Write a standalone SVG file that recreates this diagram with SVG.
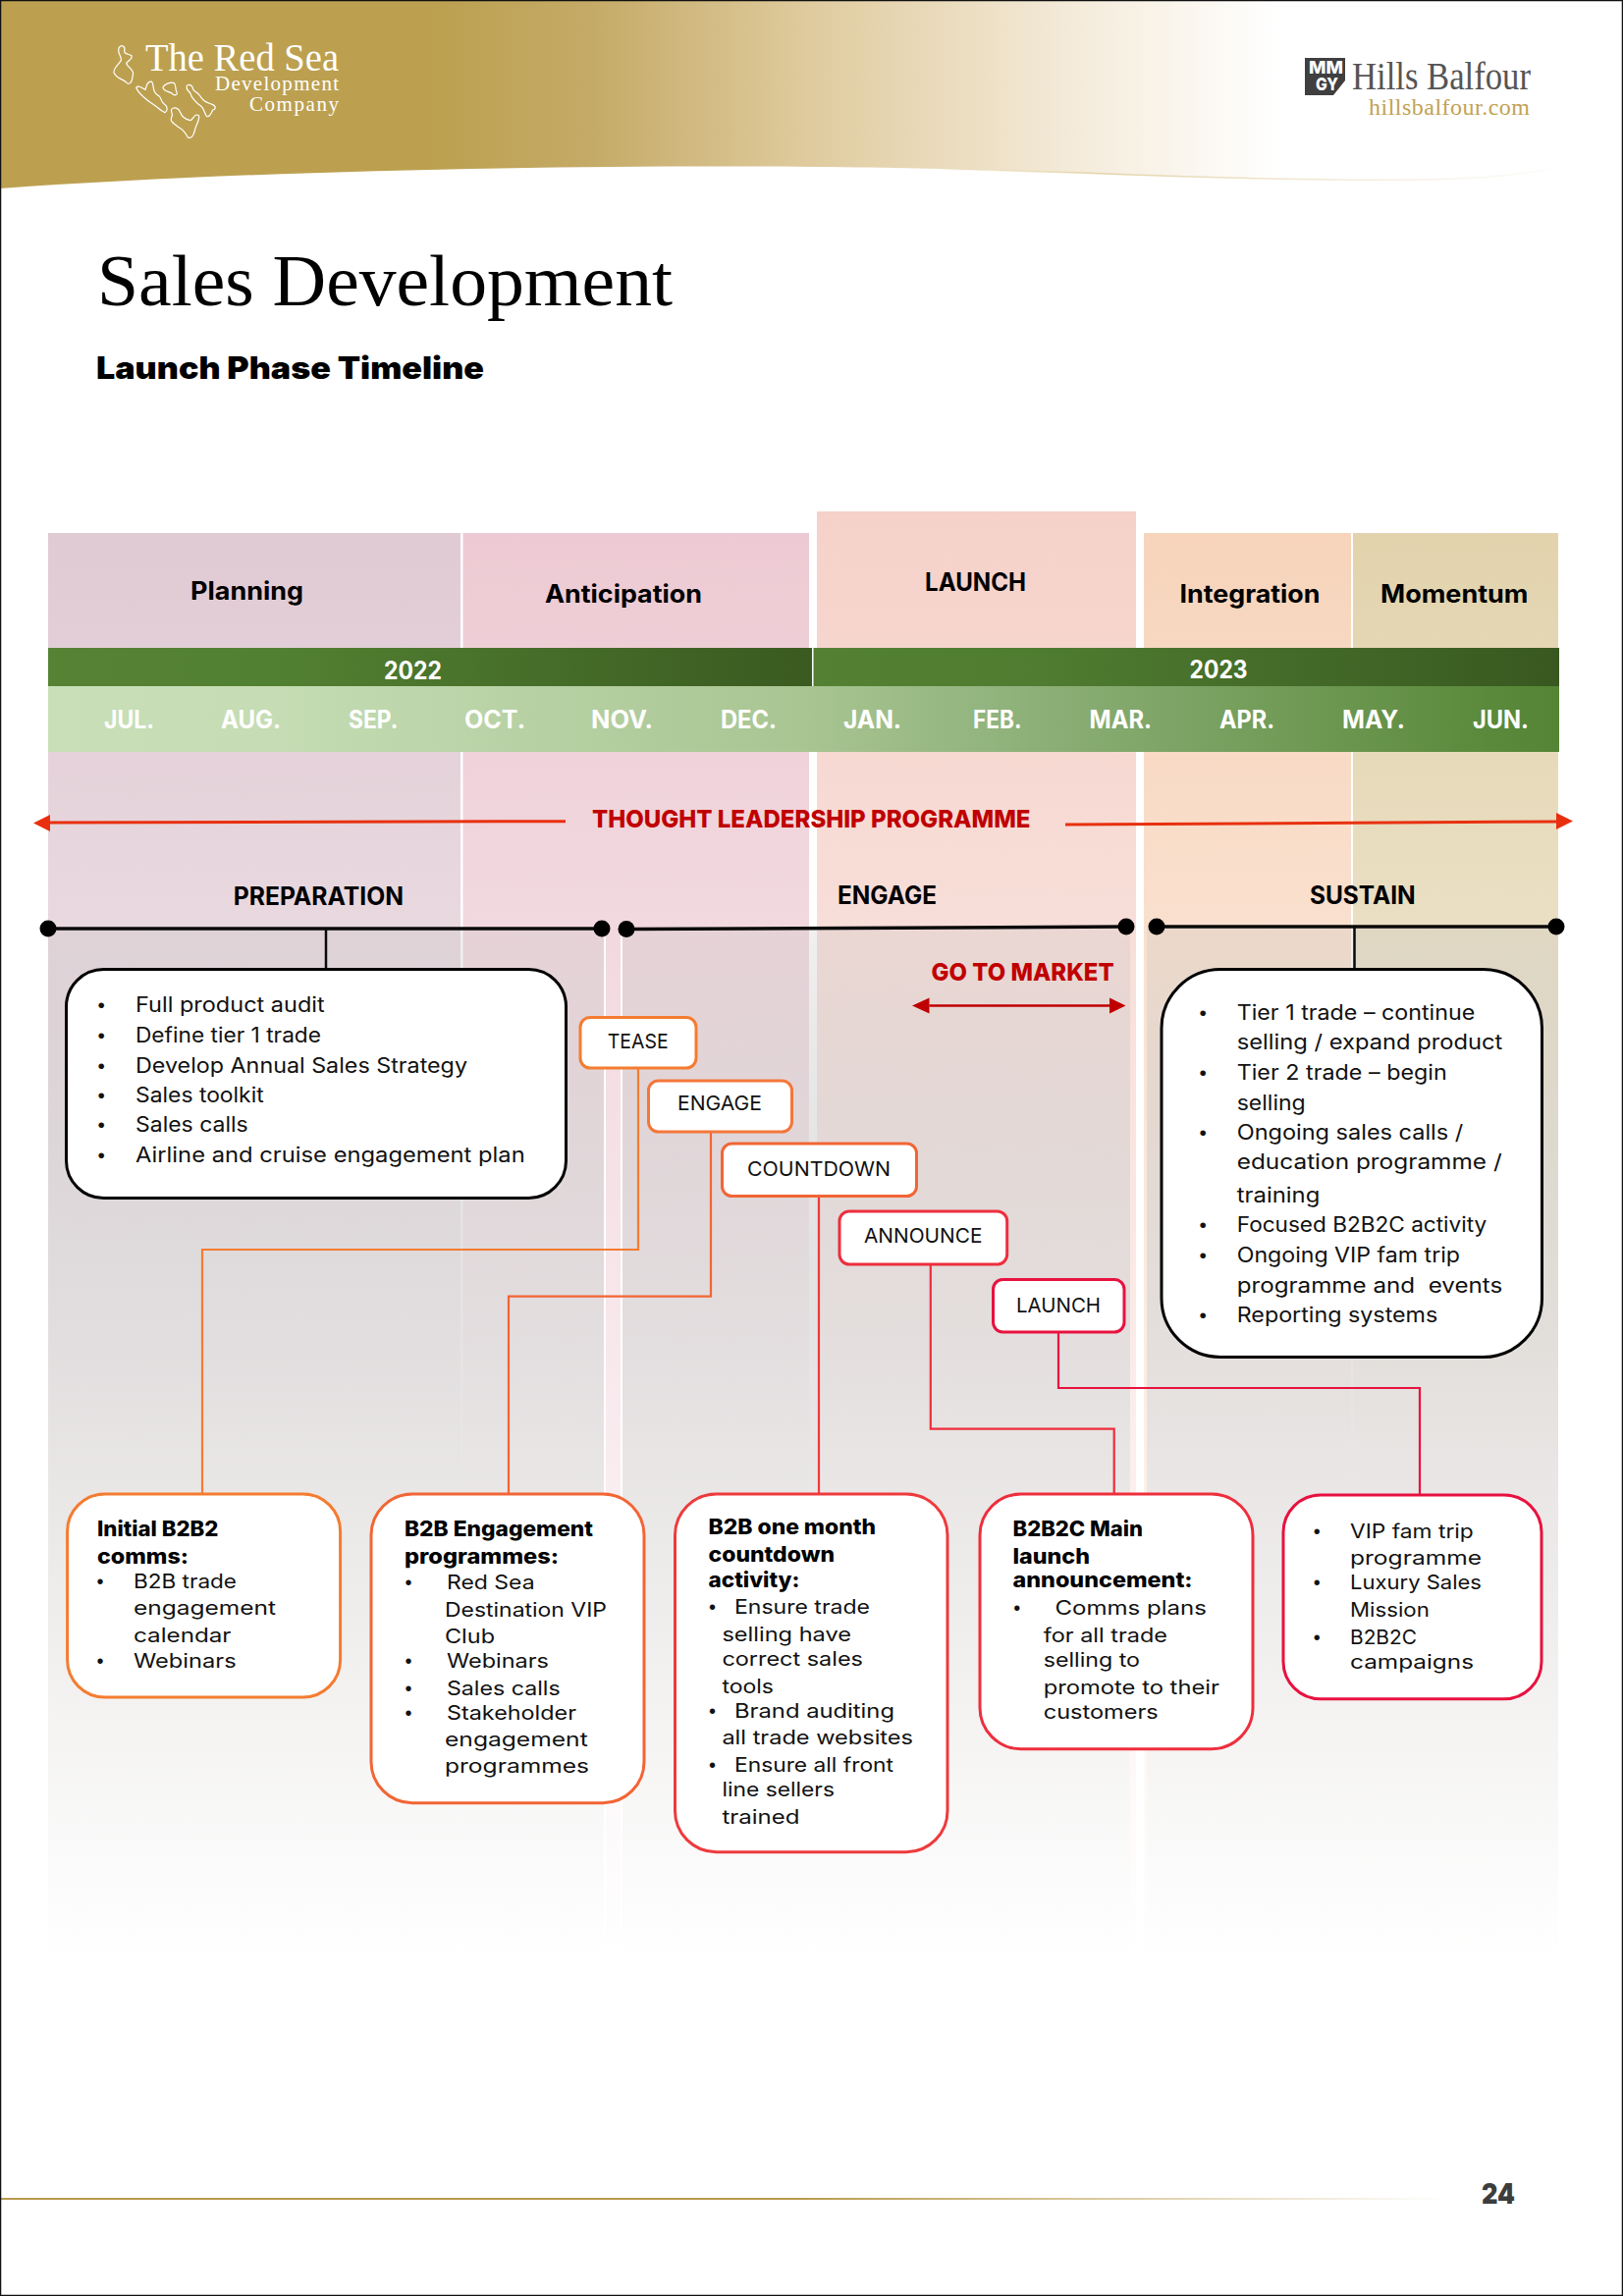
<svg xmlns="http://www.w3.org/2000/svg" width="1653" height="2339" viewBox="0 0 1653 2339">
<style>
text{font-family:"Inter","Liberation Sans",sans-serif;fill:#000}
.serif{font-family:"Liberation Serif",serif}
.hd{font-size:25px;font-weight:700}
.yr{font-size:25px;font-weight:700;fill:#fff}
.mo{font-size:25px;font-weight:700;fill:#fff}
.rd{font-size:25px;font-weight:800;fill:#c00000}
.tag{font-size:20px;font-weight:400;fill:#111}
.b{font-size:20px;font-weight:400;fill:#111}
.bb{font-size:21px;font-weight:400;fill:#111}
.bu{font-family:"Liberation Sans",sans-serif}
.h{font-size:21px;font-weight:800}
.w{fill:#fff}
.box{fill:#fff;stroke-width:3}
.o1{stroke:#f47c30}.o2{stroke:#f26535}.r1{stroke:#ee3a3c}.r2{stroke:#ee2e3d}.r3{stroke:#e8123f}.k{stroke:#000}
.cn{fill:none;stroke-width:2.2}
.tl{fill:none;stroke:#0a0a0a;stroke-width:3.5}
.st{fill:none;stroke:#0a0a0a;stroke-width:2.5}
.coral{fill:none;stroke:#fff;stroke-width:3.6;stroke-linejoin:round}
</style>
<defs>
<linearGradient id="gH" gradientUnits="userSpaceOnUse" x1="0" y1="0" x2="1300" y2="0"><stop offset="0" stop-color="#bca050"/><stop offset=".34" stop-color="#bca050"/><stop offset=".46" stop-color="#c4aa66"/><stop offset=".64" stop-color="#e0cca0"/><stop offset=".85" stop-color="#f5ecdc"/><stop offset="1" stop-color="#fff"/></linearGradient>
<linearGradient id="gE" gradientUnits="userSpaceOnUse" x1="950" y1="0" x2="1610" y2="0"><stop offset="0" stop-color="#e4d3a8" stop-opacity="0"/><stop offset=".25" stop-color="#e4d3a8"/><stop offset=".65" stop-color="#f3ecdc"/><stop offset="1" stop-color="#fff"/></linearGradient>
<linearGradient id="gP" gradientUnits="userSpaceOnUse" x1="0" y1="543" x2="0" y2="2000"><stop offset="0" stop-color="#e0cad3"/><stop offset="1" stop-color="#fff"/></linearGradient>
<linearGradient id="gA" gradientUnits="userSpaceOnUse" x1="0" y1="543" x2="0" y2="2000"><stop offset="0" stop-color="#edcad3"/><stop offset="1" stop-color="#fff"/></linearGradient>
<linearGradient id="gL" gradientUnits="userSpaceOnUse" x1="0" y1="521" x2="0" y2="2000"><stop offset="0" stop-color="#f5d1c9"/><stop offset="1" stop-color="#fff"/></linearGradient>
<linearGradient id="gI" gradientUnits="userSpaceOnUse" x1="0" y1="543" x2="0" y2="2000"><stop offset="0" stop-color="#f7d4bb"/><stop offset="1" stop-color="#fff"/></linearGradient>
<linearGradient id="gM" gradientUnits="userSpaceOnUse" x1="0" y1="543" x2="0" y2="2000"><stop offset="0" stop-color="#e2d3ad"/><stop offset="1" stop-color="#fff"/></linearGradient>
<linearGradient id="gO" gradientUnits="userSpaceOnUse" x1="0" y1="946" x2="0" y2="2030"><stop offset="0" stop-color="#bcbcbc" stop-opacity=".22"/><stop offset=".511" stop-color="#e8e5e5" stop-opacity=".95"/><stop offset=".742" stop-color="#f4f3f2" stop-opacity=".98"/><stop offset=".926" stop-color="#fdfdfd" stop-opacity=".95"/><stop offset="1" stop-color="#fff" stop-opacity="0"/></linearGradient>
<linearGradient id="gY1" gradientUnits="userSpaceOnUse" x1="49" y1="0" x2="827" y2="0"><stop offset="0" stop-color="#568234"/><stop offset=".3" stop-color="#528032"/><stop offset="1" stop-color="#3a5a20"/></linearGradient>
<linearGradient id="gY2" gradientUnits="userSpaceOnUse" x1="829" y1="0" x2="1588" y2="0"><stop offset="0" stop-color="#548033"/><stop offset=".3" stop-color="#4f7c30"/><stop offset="1" stop-color="#385820"/></linearGradient>
<linearGradient id="gM2" gradientUnits="userSpaceOnUse" x1="49" y1="0" x2="1588" y2="0"><stop offset="0" stop-color="#c8dfb8"/><stop offset=".15" stop-color="#c5dcb4"/><stop offset=".5" stop-color="#a8c592"/><stop offset=".65" stop-color="#8db079"/><stop offset=".95" stop-color="#5b8a3c"/><stop offset="1" stop-color="#548434"/></linearGradient>
<linearGradient id="gF" gradientUnits="userSpaceOnUse" x1="0" y1="0" x2="1476" y2="0"><stop offset="0" stop-color="#b89b4c"/><stop offset=".55" stop-color="#b89b4c"/><stop offset=".8" stop-color="#e0d3b0"/><stop offset="1" stop-color="#fff"/></linearGradient>
</defs>
<rect width="1653" height="2339" fill="#fff"/>
<g id="header">
<path d="M0 192C280 172 620 168 830 170C960 171 1040 175 1100 176C1250 182 1350 184 1450 183C1520 182 1570 176 1605 166V0H0Z" fill="url(#gH)"/>
<path d="M950 172C1010 174 1060 175 1100 176C1250 182 1350 184 1450 183C1520 182 1570 176 1605 166" fill="none" stroke="url(#gE)" stroke-width="1.500"/>
<g id="logo-red-sea">
<g transform="translate(100 30) scale(.3333)">
<path class="coral" d="M64 55C72 44 84 52 80 66C79 76 92 74 102 80C106 90 92 94 86 104C92 118 112 124 106 140C102 172 90 168 84 160C72 150 56 150 48 132C46 118 62 108 70 94C72 80 56 72 64 55Z"/>
<path class="coral" d="M116 178C124 168 134 180 144 184C148 170 152 156 164 160C172 170 164 186 178 198C196 206 190 222 202 228C214 236 212 250 204 254C192 250 178 234 158 222C140 208 124 198 116 178Z"/>
<path class="coral" d="M198 176C204 166 222 160 232 164C240 172 234 182 240 192C244 200 232 204 226 196C216 188 198 190 198 176Z"/>
<path class="coral" d="M270 174C276 164 288 170 290 182C294 192 304 190 312 204C322 222 332 222 350 230C362 236 358 246 350 246C346 256 340 268 332 266C324 258 326 244 314 234C298 224 284 206 282 196C278 188 268 186 270 174Z"/>
<path class="coral" d="M224 244C232 236 246 240 250 252C256 268 270 276 282 278C292 272 296 254 308 264C310 278 298 292 296 306C292 322 286 336 274 330C268 316 256 304 242 296C232 288 218 282 224 268C232 260 220 254 224 244Z"/>
</g>
<text class="serif w" style="fill:#fff" x="148" y="72" font-size="39" textLength="197" lengthAdjust="spacingAndGlyphs">The Red Sea</text>
<text class="serif w" style="fill:#fff" x="219" y="92" font-size="21" textLength="126" lengthAdjust="spacing">Development</text>
<text class="serif w" style="fill:#fff" x="254" y="113" font-size="21" textLength="91" lengthAdjust="spacing">Company</text>
</g>
<g id="logo-hills-balfour">
<path d="M1329 59H1370V82L1358 97H1329Z" fill="#3f3f3f"/>
<text x="1333" y="75" font-size="18" font-weight="800" style="fill:#fff" textLength="35" lengthAdjust="spacingAndGlyphs">MM</text>
<text x="1340" y="92" font-size="18" font-weight="800" style="fill:#fff" textLength="23" lengthAdjust="spacingAndGlyphs">GY</text>
<text class="serif" x="1377" y="91" font-size="39" style="fill:#555" textLength="182" lengthAdjust="spacingAndGlyphs">Hills Balfour</text>
<text class="serif" x="1394" y="117" font-size="24" style="fill:#c2a255" textLength="164" lengthAdjust="spacing">hillsbalfour.com</text>
</g>
</g>
<g id="title">
<text class="serif" x="99" y="311" font-size="75" textLength="586" lengthAdjust="spacingAndGlyphs">Sales Development</text>
<text x="98" y="386" font-size="31" font-weight="900" textLength="395" lengthAdjust="spacingAndGlyphs">Launch Phase Timeline</text>
</g>
<g id="columns">
<rect x="49" y="543" width="420" height="1457" fill="url(#gP)"/>
<rect x="471.500" y="543" width="352.500" height="1457" fill="url(#gA)"/>
<rect x="832" y="521" width="325" height="1479" fill="url(#gL)"/>
<rect x="1165" y="543" width="211" height="1457" fill="url(#gI)"/>
<rect x="1378" y="543" width="209" height="1457" fill="url(#gM)"/>
<rect x="49" y="946" width="566" height="1084" fill="url(#gO)"/>
<rect x="633" y="946" width="518" height="1084" fill="url(#gO)"/>
<rect x="1168" y="946" width="419" height="1084" fill="url(#gO)"/>
<rect x="615" y="946" width="2" height="1084" fill="#fff"/>
<rect x="632" y="946" width="2" height="1084" fill="#fff"/>
<text class="hd" x="194" y="611" textLength="115" lengthAdjust="spacingAndGlyphs">Planning</text>
<text class="hd" x="555" y="614" textLength="160" lengthAdjust="spacingAndGlyphs">Anticipation</text>
<text class="hd" x="942" y="602" textLength="103" lengthAdjust="spacingAndGlyphs">LAUNCH</text>
<text class="hd" x="1201.500" y="614" textLength="143" lengthAdjust="spacingAndGlyphs">Integration</text>
<text class="hd" x="1406" y="614" textLength="150.500" lengthAdjust="spacingAndGlyphs">Momentum</text>
</g>
<g id="calendar">
<rect x="49" y="660" width="778" height="39" fill="url(#gY1)"/>
<rect x="828.500" y="660" width="759.500" height="39" fill="url(#gY2)"/>
<rect x="49" y="699" width="1539" height="67" fill="url(#gM2)"/>
<text class="yr" x="391" y="692" textLength="59" lengthAdjust="spacingAndGlyphs">2022</text>
<text class="yr" x="1211.600" y="691" textLength="59" lengthAdjust="spacingAndGlyphs">2023</text>
<text class="mo" x="106" y="742" textLength="51" lengthAdjust="spacingAndGlyphs">JUL.</text>
<text class="mo" x="225" y="742" textLength="61" lengthAdjust="spacingAndGlyphs">AUG.</text>
<text class="mo" x="355" y="742" textLength="50.500" lengthAdjust="spacingAndGlyphs">SEP.</text>
<text class="mo" x="473" y="742" textLength="62" lengthAdjust="spacingAndGlyphs">OCT.</text>
<text class="mo" x="602" y="742" textLength="63" lengthAdjust="spacingAndGlyphs">NOV.</text>
<text class="mo" x="734" y="742" textLength="57" lengthAdjust="spacingAndGlyphs">DEC.</text>
<text class="mo" x="859" y="742" textLength="59" lengthAdjust="spacingAndGlyphs">JAN.</text>
<text class="mo" x="991" y="742" textLength="49.500" lengthAdjust="spacingAndGlyphs">FEB.</text>
<text class="mo" x="1109.600" y="742" textLength="63.400" lengthAdjust="spacingAndGlyphs">MAR.</text>
<text class="mo" x="1242" y="742" textLength="56" lengthAdjust="spacingAndGlyphs">APR.</text>
<text class="mo" x="1367" y="742" textLength="64" lengthAdjust="spacingAndGlyphs">MAY.</text>
<text class="mo" x="1500" y="742" textLength="57" lengthAdjust="spacingAndGlyphs">JUN.</text>
</g>
<g id="connectors">
<path d="M576 836.700L51 838" fill="none" stroke="#e8300f" stroke-width="3"/>
<path d="M51 830L34 838.500L51 847Z" fill="#e8300f"/>
<path d="M1085 840L1585 837" fill="none" stroke="#e8300f" stroke-width="3"/>
<path d="M1585 828L1602 836.500L1585 845Z" fill="#e8300f"/>
<path class="tl" d="M49 946H613"/>
<circle cx="49" cy="946" r="8.500"/>
<circle cx="613" cy="946" r="8.500"/>
<path class="tl" d="M638 946.500L1147 944"/>
<circle cx="638" cy="946.500" r="8.500"/>
<circle cx="1147" cy="944" r="8.500"/>
<path class="tl" d="M1178 944H1585"/>
<circle cx="1178" cy="944" r="8.500"/>
<circle cx="1585" cy="944" r="8.500"/>
<path class="st" d="M332 946V988"/>
<path class="st" d="M1379.500 944V988"/>
<path d="M946.500 1024.600H1130" fill="none" stroke="#c00000" stroke-width="2.500"/>
<path d="M946.500 1016.600L929 1024.600L946.500 1032.600Z" fill="#c00000"/>
<path d="M1130 1016.600L1146.500 1024.600L1130 1032.600Z" fill="#c00000"/>
<path class="cn o1" d="M650 1088V1273H206V1522"/>
<path class="cn o2" d="M724 1153V1320.700H518V1522"/>
<path class="cn r1" d="M834 1218V1522"/>
<path class="cn r2" d="M947.800 1288V1455.700H1134.700V1522"/>
<path class="cn r3" d="M1078 1357V1414H1446V1523"/>
</g>
<g id="labels">
<text class="rd" x="603" y="843" textLength="446.500" lengthAdjust="spacingAndGlyphs">THOUGHT LEADERSHIP PROGRAMME</text>
<text class="hd" x="237.700" y="922" textLength="173.300" lengthAdjust="spacingAndGlyphs">PREPARATION</text>
<text class="hd" x="853" y="921" textLength="101" lengthAdjust="spacingAndGlyphs">ENGAGE</text>
<text class="hd" x="1334" y="921" textLength="107.700" lengthAdjust="spacingAndGlyphs">SUSTAIN</text>
<text class="rd" x="948.600" y="998.500" textLength="186" lengthAdjust="spacingAndGlyphs">GO TO MARKET</text>
</g>
<g id="box-preparation">
<rect class="box k" x="67.500" y="987.500" width="509" height="233" rx="38"/>
<text class="bb bu" x="99.600" y="1031">•</text><text class="bb" x="138" y="1031" textLength="192.700" lengthAdjust="spacingAndGlyphs">Full product audit</text>
<text class="bb bu" x="99.600" y="1062">•</text><text class="bb" x="138" y="1062" textLength="189" lengthAdjust="spacingAndGlyphs">Define tier 1 trade</text>
<text class="bb bu" x="99.600" y="1093">•</text><text class="bb" x="138" y="1093" textLength="338" lengthAdjust="spacingAndGlyphs">Develop Annual Sales Strategy</text>
<text class="bb bu" x="99.600" y="1123">•</text><text class="bb" x="138" y="1123" textLength="130.700" lengthAdjust="spacingAndGlyphs">Sales toolkit</text>
<text class="bb bu" x="99.600" y="1153">•</text><text class="bb" x="138" y="1153" textLength="114.700" lengthAdjust="spacingAndGlyphs">Sales calls</text>
<text class="bb bu" x="99.600" y="1184">•</text><text class="bb" x="138" y="1184" textLength="396.700" lengthAdjust="spacingAndGlyphs">Airline and cruise engagement plan</text>
</g>
<g id="box-sustain">
<rect class="box k" x="1183" y="987.500" width="387.500" height="395" rx="60"/>
<text class="bb bu" x="1221.600" y="1039">•</text><text class="bb" x="1259.700" y="1039" textLength="242.600" lengthAdjust="spacingAndGlyphs">Tier 1 trade – continue</text>
<text class="bb" x="1259.700" y="1069" textLength="270.600" lengthAdjust="spacingAndGlyphs">selling / expand product</text>
<text class="bb bu" x="1221.600" y="1100">•</text><text class="bb" x="1259.700" y="1100" textLength="214" lengthAdjust="spacingAndGlyphs">Tier 2 trade – begin</text>
<text class="bb" x="1259.700" y="1131" textLength="70" lengthAdjust="spacingAndGlyphs">selling</text>
<text class="bb bu" x="1221.600" y="1161">•</text><text class="bb" x="1259.700" y="1161" textLength="230.600" lengthAdjust="spacingAndGlyphs">Ongoing sales calls /</text>
<text class="bb" x="1259.700" y="1191" textLength="270" lengthAdjust="spacingAndGlyphs">education programme /</text>
<text class="bb" x="1259.700" y="1225" textLength="84.600" lengthAdjust="spacingAndGlyphs">training</text>
<text class="bb bu" x="1221.600" y="1255">•</text><text class="bb" x="1259.700" y="1255" textLength="254.600" lengthAdjust="spacingAndGlyphs">Focused B2B2C activity</text>
<text class="bb bu" x="1221.600" y="1286">•</text><text class="bb" x="1259.700" y="1286" textLength="227.300" lengthAdjust="spacingAndGlyphs">Ongoing VIP fam trip</text>
<text class="bb" x="1259.700" y="1317" textLength="270.600" lengthAdjust="spacingAndGlyphs" xml:space="preserve">programme and  events</text>
<text class="bb bu" x="1221.600" y="1347">•</text><text class="bb" x="1259.700" y="1347" textLength="204.600" lengthAdjust="spacingAndGlyphs">Reporting systems</text>
</g>
<g id="tag-tease"><rect class="box o1" x="591" y="1036.500" width="118" height="51.500" rx="10"/><text class="tag" x="618.800" y="1068" textLength="61.800" lengthAdjust="spacingAndGlyphs">TEASE</text></g>
<g id="tag-engage"><rect class="box o2" x="660.500" y="1101" width="146" height="52" rx="10" style="stroke:#f4773a"/><text class="tag" x="690" y="1131" textLength="86" lengthAdjust="spacingAndGlyphs">ENGAGE</text></g>
<g id="tag-countdown"><rect class="box o2" x="735.500" y="1165" width="198" height="53.500" rx="10"/><text class="tag" x="761" y="1197.500" textLength="146" lengthAdjust="spacingAndGlyphs">COUNTDOWN</text></g>
<g id="tag-announce"><rect class="box r2" x="855" y="1234" width="170.700" height="54" rx="10"/><text class="tag" x="880" y="1266.400" textLength="120.400" lengthAdjust="spacingAndGlyphs">ANNOUNCE</text></g>
<g id="tag-launch"><rect class="box r3" x="1011.500" y="1303.500" width="133.500" height="53.500" rx="10"/><text class="tag" x="1035" y="1337" textLength="86" lengthAdjust="spacingAndGlyphs">LAUNCH</text></g>
<g id="card-initial">
<rect class="box o1" x="68.600" y="1522" width="278" height="207" rx="38"/>
<text class="h" x="99" y="1565" textLength="123.500" lengthAdjust="spacingAndGlyphs">Initial B2B2</text>
<text class="h" x="99" y="1593" textLength="93" lengthAdjust="spacingAndGlyphs">comms:</text>
<text class="b bu" x="98.500" y="1617.700">•</text><text class="b" x="136" y="1617.700" textLength="105" lengthAdjust="spacingAndGlyphs">B2B trade</text>
<text class="b" x="136" y="1645" textLength="145" lengthAdjust="spacingAndGlyphs">engagement</text>
<text class="b" x="136" y="1672.700" textLength="99.500" lengthAdjust="spacingAndGlyphs">calendar</text>
<text class="b bu" x="98.500" y="1698.700">•</text><text class="b" x="136" y="1698.700" textLength="104.600" lengthAdjust="spacingAndGlyphs">Webinars</text>
</g>
<g id="card-engagement">
<rect class="box o2" x="378" y="1522" width="278" height="314.700" rx="42"/>
<text class="h" x="412" y="1565" textLength="192" lengthAdjust="spacingAndGlyphs">B2B Engagement</text>
<text class="h" x="412" y="1593" textLength="157" lengthAdjust="spacingAndGlyphs">programmes:</text>
<text class="b bu" x="412.500" y="1619">•</text><text class="b" x="455" y="1619" textLength="89.600" lengthAdjust="spacingAndGlyphs">Red Sea</text>
<text class="b" x="453" y="1646.700" textLength="165" lengthAdjust="spacingAndGlyphs">Destination VIP</text>
<text class="b" x="453" y="1674" textLength="51" lengthAdjust="spacingAndGlyphs">Club</text>
<text class="b bu" x="412.500" y="1699">•</text><text class="b" x="455" y="1699" textLength="104" lengthAdjust="spacingAndGlyphs">Webinars</text>
<text class="b bu" x="412.500" y="1727">•</text><text class="b" x="455" y="1727" textLength="115.600" lengthAdjust="spacingAndGlyphs">Sales calls</text>
<text class="b bu" x="412.500" y="1752">•</text><text class="b" x="455" y="1752" textLength="132" lengthAdjust="spacingAndGlyphs">Stakeholder</text>
<text class="b" x="453" y="1779" textLength="145.700" lengthAdjust="spacingAndGlyphs">engagement</text>
<text class="b" x="453" y="1806" textLength="147" lengthAdjust="spacingAndGlyphs">programmes</text>
</g>
<g id="card-countdown">
<rect class="box r1" x="687.500" y="1522" width="277.500" height="364.700" rx="42"/>
<text class="h" x="721.600" y="1563" textLength="170.400" lengthAdjust="spacingAndGlyphs">B2B one month</text>
<text class="h" x="721.600" y="1590.700" textLength="128.400" lengthAdjust="spacingAndGlyphs">countdown</text>
<text class="h" x="721.600" y="1616.500" textLength="92.900" lengthAdjust="spacingAndGlyphs">activity:</text>
<text class="b bu" x="722" y="1644">•</text><text class="b" x="748" y="1644" textLength="138" lengthAdjust="spacingAndGlyphs">Ensure trade</text>
<text class="b" x="735.400" y="1671.700" textLength="131.600" lengthAdjust="spacingAndGlyphs">selling have</text>
<text class="b" x="735.400" y="1696.700" textLength="143.600" lengthAdjust="spacingAndGlyphs">correct sales</text>
<text class="b" x="735.400" y="1725" textLength="52.600" lengthAdjust="spacingAndGlyphs">tools</text>
<text class="b bu" x="722" y="1750">•</text><text class="b" x="748" y="1750" textLength="163" lengthAdjust="spacingAndGlyphs">Brand auditing</text>
<text class="b" x="735.400" y="1776.700" textLength="194.600" lengthAdjust="spacingAndGlyphs">all trade websites</text>
<text class="b bu" x="722" y="1805">•</text><text class="b" x="748" y="1805" textLength="162" lengthAdjust="spacingAndGlyphs">Ensure all front</text>
<text class="b" x="735.400" y="1830" textLength="114.600" lengthAdjust="spacingAndGlyphs">line sellers</text>
<text class="b" x="735.400" y="1857.700" textLength="79.100" lengthAdjust="spacingAndGlyphs">trained</text>
</g>
<g id="card-main-launch">
<rect class="box r2" x="998" y="1522" width="278" height="259.700" rx="42"/>
<text class="h" x="1031.500" y="1565" textLength="132.500" lengthAdjust="spacingAndGlyphs">B2B2C Main</text>
<text class="h" x="1031.500" y="1593" textLength="78.500" lengthAdjust="spacingAndGlyphs">launch</text>
<text class="h" x="1031.500" y="1616.700" textLength="183.100" lengthAdjust="spacingAndGlyphs">announcement:</text>
<text class="b bu" x="1032.300" y="1645">•</text><text class="b" x="1074.500" y="1645" textLength="154.500" lengthAdjust="spacingAndGlyphs">Comms plans</text>
<text class="b" x="1062.700" y="1672.700" textLength="126.300" lengthAdjust="spacingAndGlyphs">for all trade</text>
<text class="b" x="1062.700" y="1697.700" textLength="98.300" lengthAdjust="spacingAndGlyphs">selling to</text>
<text class="b" x="1062.700" y="1726" textLength="179.300" lengthAdjust="spacingAndGlyphs">promote to their</text>
<text class="b" x="1062.700" y="1751" textLength="117" lengthAdjust="spacingAndGlyphs">customers</text>
</g>
<g id="card-campaigns">
<rect class="box r3" x="1307" y="1523" width="263" height="207.700" rx="38"/>
<text class="b bu" x="1337.800" y="1566.700">•</text><text class="b" x="1375" y="1566.700" textLength="125.800" lengthAdjust="spacingAndGlyphs">VIP fam trip</text>
<text class="b" x="1375" y="1594" textLength="134" lengthAdjust="spacingAndGlyphs">programme</text>
<text class="b bu" x="1337.800" y="1619">•</text><text class="b" x="1375" y="1619" textLength="134" lengthAdjust="spacingAndGlyphs">Luxury Sales</text>
<text class="b" x="1375" y="1646.700" textLength="80.800" lengthAdjust="spacingAndGlyphs">Mission</text>
<text class="b bu" x="1337.800" y="1675">•</text><text class="b" x="1375" y="1675" textLength="68" lengthAdjust="spacingAndGlyphs">B2B2C</text>
<text class="b" x="1375" y="1700" textLength="126" lengthAdjust="spacingAndGlyphs">campaigns</text>
</g>
<g id="footer">
<path d="M0 2240H1476" fill="none" stroke="url(#gF)" stroke-width="2"/>
<text x="1509" y="2245" font-size="29" font-weight="900" style="fill:#3d3d3d" textLength="34" lengthAdjust="spacingAndGlyphs">24</text>
</g>
<rect x=".5" y=".5" width="1652" height="2338" fill="none" stroke="#111" stroke-width="1.500"/>
</svg>
